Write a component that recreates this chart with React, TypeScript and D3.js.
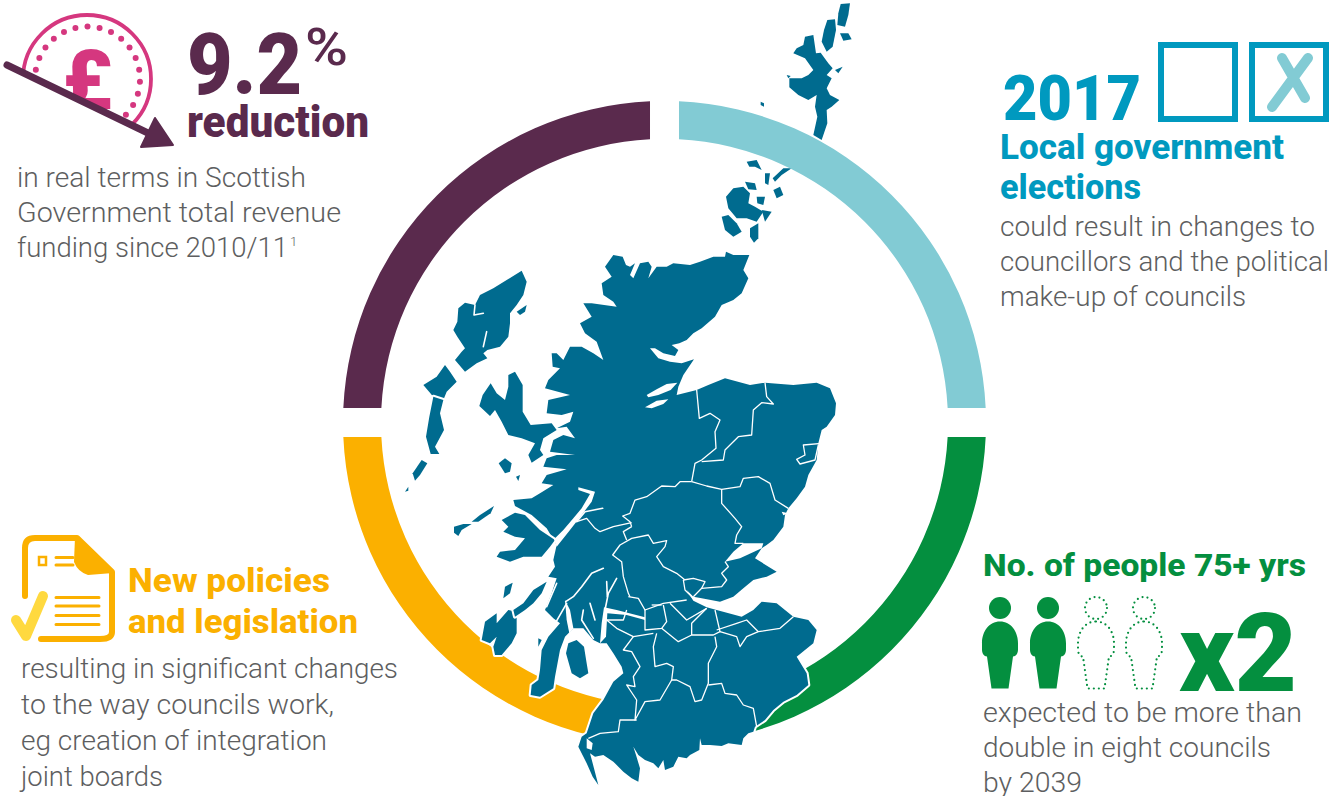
import React from "react";
import * as d3 from "d3";

const W = 1330, H = 796;

// ring
const ringSegments = [
  { name: "election", share: 25, color: "#82cbd4" },
  { name: "people", share: 25, color: "#048f3f" },
  { name: "policies", share: 25, color: "#fbb000" },
  { name: "funding", share: 25, color: "#5a2a4d" },
];

// map data: survey units
type P = [number, number];
const mainland: P[] = [
  [640,-375],[668,-370],[678,-345],[690,-340],[705,-350],[690,-315],[700,-305],[720,-350],[745,-355],[755,-340],[745,-305],[770,-340],[800,-340],[820,-350],[870,-345],[900,-355],[940,-370],[975,-370],[978,-385],[1000,-375],[1048,-375],[1030,-330],[1045,-305],[1025,-260],[1000,-240],[965,-225],[945,-190],[905,-155],[880,-140],[860,-120],[838,-110],[815,-105],[835,-90],[825,-72],[790,-80],[765,-95],[750,-95],[775,-65],[810,-55],[845,-50],[882,-62],[850,-15],[835,20],[830,45],[890,30],[925,15],[975,-5],[1050,15],[1095,8],[1180,15],[1250,8],[1290,25],[1308,70],[1305,105],[1280,140],[1265,150],[1255,190],[1250,240],[1225,285],[1215,320],[1190,355],[1165,385],[1155,405],[1150,440],[1120,480],[1100,495],[1085,505],[1065,535],[1130,575],[1100,590],[1060,600],[1030,625],[1000,650],[960,665],[905,655],[880,650],[860,630],[880,662],[920,682],[950,690],[1025,710],[1060,690],[1085,665],[1130,670],[1180,710],[1225,720],[1250,750],[1240,790],[1190,830],[1220,880],[1225,915],[1190,945],[1150,965],[1120,990],[1095,1020],[1065,1040],[1060,1055],[1045,1060],[1030,1075],[1025,1095],[985,1090],[965,1098],[930,1095],[905,1095],[900,1075],[898,1110],[870,1125],[860,1135],[835,1130],[820,1160],[795,1170],[790,1140],[775,1165],[760,1150],[735,1140],[715,1125],[700,1100],[708,1125],[720,1165],[715,1205],[695,1195],[670,1175],[640,1145],[610,1125],[585,1130],[570,1120],[578,1150],[595,1215],[578,1190],[560,1150],[535,1100],[545,1070],[560,1060],[580,1000],[610,960],[640,905],[670,880],[665,860],[640,820],[620,790],[600,790],[580,780],[550,745],[520,745],[495,770],[480,810],[465,890],[460,925],[420,950],[392,945],[395,915],[415,900],[420,870],[425,810],[445,770],[480,730],[460,715],[435,690],[455,640],[470,595],[445,590],[465,560],[460,540],[470,495],[440,445],[395,405],[345,378],[340,360],[395,355],[420,340],[460,315],[425,310],[440,285],[500,268],[430,260],[440,235],[470,225],[525,225],[450,215],[460,180],[490,165],[525,175],[500,140],[470,145],[510,125],[520,95],[485,105],[440,100],[445,60],[510,45],[435,25],[445,0],[480,-35],[458,-40],[455,-80],[470,-80],[490,-60],[510,-100],[545,-100],[580,-80],[610,-60],[590,-115],[555,-140],[540,-170],[575,-190],[550,-230],[575,-230],[650,-220],[640,-235],[610,-255],[605,-290],[635,-310],[615,-340],
];
const northernIsles: P[][] = [
  [[1322,-1128],[1350,-1130],[1345,-1095],[1335,-1060],[1312,-1065],[1315,-1100]],
  [[1282,-1080],[1305,-1082],[1308,-1050],[1298,-1000],[1280,-985],[1265,-1015],[1272,-1050]],
  [[1320,-1040],[1345,-1040],[1355,-1022],[1330,-1018]],
  [[1215,-1030],[1240,-1035],[1248,-980],[1262,-982],[1285,-950],[1298,-935],[1280,-915],[1295,-905],[1280,-875],[1290,-855],[1318,-840],[1295,-820],[1280,-810],[1282,-770],[1265,-720],[1240,-735],[1252,-790],[1245,-820],[1250,-855],[1225,-840],[1195,-855],[1168,-878],[1168,-905],[1205,-905],[1225,-915],[1240,-930],[1215,-965],[1180,-980],[1190,-995],[1210,-1005]],
  [[1305,-930],[1328,-940],[1315,-920]],
  [[1160,-915],[1172,-912],[1165,-905]],
  [[1082,-835],[1092,-830],[1092,-820],[1082,-825]],
  [[965,-490],[985,-495],[1010,-470],[1025,-445],[1000,-430],[975,-450]],
  [[1000,-575],[1030,-580],[1050,-560],[1045,-530],[1065,-520],[1090,-505],[1070,-475],[1040,-485],[1010,-485],[985,-515],[978,-550]],
  [[1085,-510],[1115,-505],[1095,-475]],
  [[1050,-455],[1075,-470],[1075,-425],[1062,-412],[1050,-430]],
  [[1035,-595],[1065,-590],[1070,-570],[1045,-572]],
  [[1040,-655],[1070,-660],[1085,-630],[1065,-640],[1048,-640]],
  [[1095,-620],[1110,-620],[1105,-585],[1095,-590]],
  [[1118,-605],[1150,-635],[1175,-635],[1145,-615],[1125,-595]],
  [[1120,-570],[1140,-580],[1150,-555],[1130,-545]],
  [[1070,-550],[1095,-550],[1090,-525],[1072,-530]],
];
const westernIsles: P[][] = [
  [[365,-328],[380,-295],[370,-255],[350,-225],[330,-200],[330,-170],[325,-130],[300,-100],[262,-90],[250,-80],[262,-65],[230,-50],[195,-25],[165,-60],[185,-85],[195,-95],[172,-130],[160,-150],[172,-175],[175,-215],[195,-232],[225,-225],[240,-255],[280,-275],[320,-300]],
  [[350,-205],[380,-225],[375,-205],[360,-195]],
  [[70,15],[110,-10],[135,-45],[150,-25],[170,5],[140,35],[130,60],[100,50]],
  [[100,50],[130,60],[120,100],[132,150],[105,200],[118,222],[92,222],[78,170],[88,110]],
  [[65,240],[82,250],[60,285],[45,302],[38,280]],
  [[15,335],[25,320],[25,332]],
  [[325,-15],[345,-25],[368,15],[368,95],[392,135],[455,130],[470,150],[430,175],[420,210],[430,225],[395,248],[385,225],[405,190],[365,175],[325,165],[305,125],[285,90],[270,108],[238,78],[248,45],[272,10],[290,40],[315,60],[325,20]],
  [[296,250],[315,235],[335,250],[330,275],[315,280]],
  [[348,290],[360,285],[355,303]],
  [[162,440],[190,432],[215,432],[185,450],[175,468],[162,458]],
  [[215,425],[240,405],[282,378],[272,400],[235,425]],
  [[305,420],[345,398],[375,405],[420,450],[465,480],[450,500],[425,530],[370,530],[330,545],[290,530],[300,515],[345,510],[375,475],[345,470],[310,455],[325,440]],
  [[255,725],[290,700],[290,730],[325,690],[350,695],[350,760],[335,790],[305,825],[285,825],[280,800],[290,770],[270,790],[245,780]],
  [[370,670],[400,630],[440,605],[425,640],[400,670],[375,690],[345,710],[340,690]],
  [[315,620],[338,608],[330,640],[310,655]],
  [[505,790],[530,780],[552,800],[560,850],[565,880],[540,895],[515,880],[498,820]],
  [[415,775],[425,780],[415,800]],
];
const waters: P[][] = [
  [[740,45],[770,28],[800,12],[832,8],[812,30],[775,45],[745,52]],
  [[735,82],[770,62],[805,58],[790,72],[755,85]],
  [[1090,490],[1030,490],[1000,515],[975,545],[1020,535],[1085,505]],
  [[1145,395],[1165,400],[1150,406]],
  [[585,335],[535,322],[535,330],[570,342],[545,385],[520,415],[490,450],[462,478],[470,500],[510,450],[545,405],[575,365]],
  [[560,1075],[578,1090],[575,1110],[560,1105]],
  [[495,660],[510,690],[520,745],[508,760],[500,720]],
  [[600,790],[605,730],[612,682],[650,690],[735,712],[735,720],[680,705],[622,700],[618,770]],
];
const inlets: P[][] = [
  [[608,385],[555,395],[530,425]],
  [[610,565],[575,580],[545,620],[520,650],[497,665]],
  [[650,595],[625,640],[615,690]],
  [[620,605],[622,650]],
  [[550,690],[545,720],[580,775]],
  [[570,670],[585,720]],
  [[470,610],[440,680]],
  [[500,670],[460,740]],
  [[225,-225],[222,-195],[250,-200]],
  [[260,-145],[250,-100]],
];
const boundaries: P[][] = [
  [[890,30],[898,115],[930,100],[960,120],[945,155],[948,205],[905,240],[885,250],[875,305]],
  [[1095,8],[1100,50],[1120,72],[1085,68],[1060,90],[1055,165],[1015,170],[975,210],[970,240],[905,245]],
  [[1265,190],[1210,195],[1215,225],[1190,238],[1200,252],[1245,240],[1255,195]],
  [[875,305],[840,305],[825,320],[785,318],[740,350],[705,360],[690,400],[668,408],[690,425],[695,440]],
  [[875,305],[920,318],[965,328],[1020,320],[1030,295],[1075,290],[1110,310],[1125,360],[1165,385]],
  [[965,328],[965,370],[1005,415],[1025,440],[1010,465],[1005,490],[1030,490]],
  [[975,545],[985,560],[965,580],[980,600],[965,620],[905,625],[880,650]],
  [[850,600],[880,595],[915,605],[905,625]],
  [[850,600],[855,630],[880,655]],
  [[855,600],[830,580],[790,560],[770,530],[795,500],[800,482],[760,490],[745,465],[695,475],[660,495],[638,525],[665,545],[670,590],[685,640],[690,650]],
  [[695,428],[640,440],[600,455],[585,445],[560,415],[530,425]],
  [[695,440],[670,455],[680,480]],
  [[685,650],[715,655],[735,690],[790,670],[860,660]],
  [[810,670],[860,720],[920,685]],
  [[735,690],[735,710],[735,750],[785,745],[800,725],[790,675]],
  [[755,675],[785,675]],
  [[620,720],[670,720],[680,690]],
  [[620,720],[650,745],[700,770],[760,760]],
  [[700,770],[670,810],[695,815],[720,860],[700,890],[705,920],[680,915],[710,960],[705,1020],[735,965],[780,960],[815,900],[820,860],[800,850],[765,860],[760,800],[770,760]],
  [[785,745],[835,785],[875,765],[940,765],[960,755],[945,690]],
  [[875,765],[875,730],[920,685]],
  [[945,770],[950,800],[925,850],[925,910],[905,960],[885,965],[870,920],[830,900],[815,900]],
  [[960,755],[1010,770],[1020,800],[1040,770],[1075,755],[1140,745],[1180,710]],
  [[950,750],[1010,730],[1040,720],[1075,755]],
  [[925,915],[965,910],[975,940],[1010,945],[1030,975],[1060,985],[1070,1040]],
  [[710,1020],[660,1020],[655,1055],[600,1060],[565,1075]],
];

// text
const fundingValue = "9.2";
const fundingUnit = "%";
const fundingHead = "reduction";
const fundingBody = ["in real terms in Scottish", "Government total revenue", "funding since 2010/11"];
const electionYear = "2017";
const electionHead = ["Local government", "elections"];
const electionBody = ["could result in changes to", "councillors and the political", "make-up of councils"];
const policyHead = ["New policies", "and legislation"];
const policyBody = ["resulting in significant changes", "to the way councils work,", "eg creation of integration", "joint boards"];
const peopleHead = "No. of people 75+ yrs";
const peopleMult = "x2";
const peopleBody = ["expected to be more than", "double in eight councils", "by 2039"];
const peopleIcons = [true, true, false, false];
const coinDots = d3.range(-9, 19);

const F = "Roboto, sans-serif";
const PURPLE = "#5a2a4d", PINK = "#d5377f", BLUE = "#0099bf", TEAL = "#82cbd4", GREEN = "#048f3f", YELLOW = "#fbb000", GREY = "#5d5e60", MAP = "#006b8f";

const PERSON = "M0,0 C11,0 18,10 18,22 L18,28 C18,32 16,35 13,35 L8.5,67 L-8.5,67 L-13,35 C-16,35 -18,32 -18,28 L-18,22 C-18,10 -11,0 0,0Z";

function Lines({ lines, x, y, dy, widths }: { lines: string[]; x: number; y: number; dy: number; widths: number[] }) {
  return (
    <g fontFamily={F} fontWeight={300} fontSize={28.5} fill={GREY}>
      {lines.map((l, i) => <text key={i} x={x} y={y + i * dy} textLength={widths[i]} lengthAdjust="spacingAndGlyphs">{l}</text>)}
    </g>
  );
}

function Fit({ x, y, w, size, weight, fill, children }: any) {
  return <text x={x} y={y} textLength={w} lengthAdjust="spacingAndGlyphs" fontFamily={F} fontWeight={weight} fontSize={size} fill={fill}>{children}</text>;
}

export default function App() {
  const cx = 664.5, cy = 422.5, outer = 321.5, inner = 283.5;
  const pie = d3.pie<any>().value((d) => d.share).sort(null);
  const arc = d3.arc<any>().innerRadius(inner).outerRadius(outer).padRadius(outer).padAngle(29 / outer);
  const sx = d3.scaleLinear().domain([0, 1380]).range([400, 860]);
  const sy = d3.scaleLinear().domain([0, 1248]).range([380, 796]);
  const closed = d3.line<P>().x((d) => sx(d[0])).y((d) => sy(d[1])).curve(d3.curveLinearClosed);
  const open = d3.line<P>().x((d) => sx(d[0])).y((d) => sy(d[1]));
  const southern = [mainland, ...westernIsles];

  return (
    <svg width={W} height={H} viewBox={`0 0 ${W} ${H}`} style={{ position: "absolute", left: 0, top: 0, background: "#fff" }}>
      <defs>
        <clipPath id="coinClip"><path d="M0,0 L200,0 L200,160 L5,65Z" /></clipPath>
      </defs>

      {/* northern isles sit below the ring */}
      <g fill={MAP}>{northernIsles.map((p, i) => <path key={i} d={closed(p)!} />)}</g>

      <g transform={`translate(${cx},${cy})`}>
        {pie(ringSegments).map((s) => <path key={s.data.name} d={arc(s)!} fill={s.data.color} />)}
      </g>

      <g fill={MAP} stroke="#fff" strokeWidth={4} strokeLinejoin="round" paintOrder="stroke">
        {southern.map((p, i) => <path key={i} d={closed(p)!} />)}
      </g>
      <g fill="#fff">{waters.map((p, i) => <path key={i} d={closed(p)!} />)}</g>
      <g fill="none" stroke="#fff" strokeWidth={1.6} strokeLinecap="round" strokeLinejoin="round">
        {inlets.map((p, i) => <path key={i} d={open(p)!} />)}
      </g>
      <g fill="none" stroke="#fff" strokeWidth={1.3} strokeLinejoin="round">
        {boundaries.map((p, i) => <path key={i} d={open(p)!} />)}
      </g>

      {/* funding */}
      <g clipPath="url(#coinClip)">
        <circle cx={87} cy={79} r={64} fill="none" stroke={PINK} strokeWidth={3.8} />
        {coinDots.map((k) => {
          const a = (k * 13.3 * Math.PI) / 180;
          return <circle key={k} cx={87.5 + 52.5 * Math.sin(a)} cy={79 - 52.5 * Math.cos(a)} r={3} fill={PINK} />;
        })}
        <text x={62} y={109} fontFamily={F} fontWeight={900} fontSize={84} fill={PINK}>£</text>
      </g>
      <line x1={7} y1={65} x2={150} y2={134} stroke={PURPLE} strokeWidth={7} strokeLinecap="round" />
      <path d="M155,118 L173,145 L141,147Z" fill={PURPLE} stroke={PURPLE} strokeWidth={2} strokeLinejoin="round" />
      <Fit x={187} y={94} w={115} size={85} weight={900} fill={PURPLE}>{fundingValue}</Fit>
      <Fit x={305} y={65} w={43} size={52} weight={500} fill={PURPLE}>{fundingUnit}</Fit>
      <Fit x={187} y={137} w={182} size={44} weight={900} fill={PURPLE}>{fundingHead}</Fit>
      <Lines lines={fundingBody} x={17} y={187} dy={35} widths={[289, 324, 271]} />
      <text x={290} y={246} fontFamily={F} fontWeight={300} fontSize={13} fill={GREY}>1</text>

      {/* elections */}
      <Fit x={1003} y={120} w={138} size={63} weight={900} fill={BLUE}>{electionYear}</Fit>
      <rect x={1161} y={45} width={74} height={74} fill="none" stroke={BLUE} strokeWidth={6} />
      <rect x={1252} y={45} width={74} height={74} fill="none" stroke={BLUE} strokeWidth={6} />
      <path d="M1282,58 L1305,98 M1308,58 L1272,107" stroke={TEAL} strokeWidth={10} strokeLinecap="round" fill="none" />
      {electionHead.map((l, i) => <Fit key={i} x={1000} y={159 + i * 40} w={[284, 141][i]} size={35} weight={800} fill={BLUE}>{l}</Fit>)}
      <Lines lines={electionBody} x={1000} y={236} dy={35} widths={[315, 329, 246]} />

      {/* policies */}
      <path d="M25,596 L25,548 Q25,538 35,538 L77,538 L112,572 L112,632 Q112,639 100,639 L41,639" fill="none" stroke={YELLOW} strokeWidth={6} strokeLinecap="round" strokeLinejoin="round" />
      <path d="M75,537 L113,573 L88,575 Q78,572 74,562Z" fill={YELLOW} />
      <rect x={39} y={557} width={7} height={8} fill="none" stroke={YELLOW} strokeWidth={2.5} />
      <path d="M56,557.5 L73,557.5 M56,565 L73,565 M56,597.5 L99,597.5 M56,606 L99,606 M56,615.5 L99,615.5 M56,624.5 L99,624.5" stroke={YELLOW} strokeWidth={3} strokeLinecap="round" />
      <path d="M16,620 L26,636 L43,596" fill="none" stroke="#ffd93f" strokeWidth={10} strokeLinecap="round" strokeLinejoin="round" />
      {policyHead.map((l, i) => <Fit key={i} x={128} y={592 + i * 41} w={[202, 230][i]} size={33} weight={800} fill={YELLOW}>{l}</Fit>)}
      <Lines lines={policyBody} x={21} y={678} dy={36} widths={[377, 313, 306, 142]} />

      {/* people */}
      <Fit x={983} y={576} w={323} size={32} weight={800} fill={GREEN}>{peopleHead}</Fit>
      {peopleIcons.map((f, i) => {
        const x = 1000 + i * 48;
        return (
          <g key={i} transform={`translate(${x},0)`} fill={f ? GREEN : "none"} stroke={f ? "none" : GREEN} strokeWidth={2.2} strokeDasharray="0 5" strokeLinecap="round">
            <circle cx={0} cy={608} r={11} />
            <path d={PERSON} transform="translate(0,621.5)" />
          </g>
        );
      })}
      <Fit x={1179} y={691} w={118} size={110} weight={900} fill={GREEN}>{peopleMult}</Fit>
      <Lines lines={peopleBody} x={983} y={722} dy={35} widths={[319, 288, 99]} />
    </svg>
  );
}
